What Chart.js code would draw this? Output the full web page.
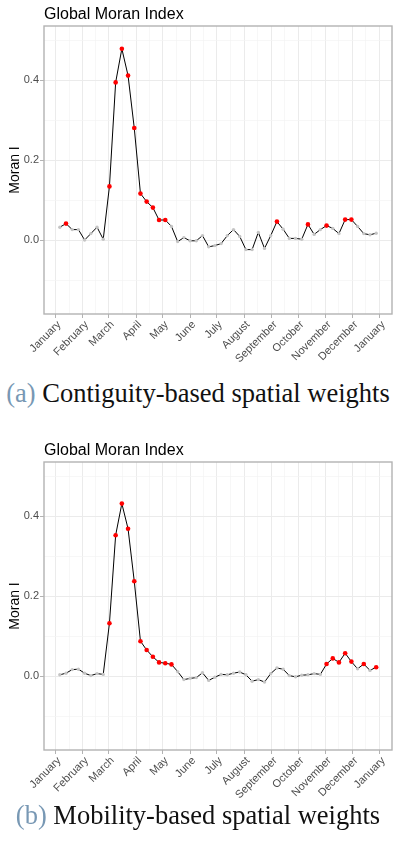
<!DOCTYPE html>
<html>
<head>
<meta charset="utf-8">
<script src="https://cdn.jsdelivr.net/npm/chart.js@4.4.0/dist/chart.umd.min.js"></script>
<style>
  body { margin: 0; background: #fff; width: 396px; height: 845px; position: relative; overflow: hidden; }
  .box { position: absolute; left: 0; width: 396px; height: 372px; }
  .cap { position: absolute; left: 0; width: 396px; text-align: center; white-space: nowrap;
         font-family: "Liberation Serif", serif; font-size: 26.5px; line-height: 27px; color: #111; }
  .cap span { color: #7898b4; }
</style>
</head>
<body>
<div class="box" style="top:0"><canvas id="chartA"></canvas></div>
<div class="cap" style="top:380px"><span>(a)</span> Contiguity-based spatial weights</div>
<div class="box" style="top:436px"><canvas id="chartB"></canvas></div>
<div class="cap" style="top:802px"><span>(b)</span> Mobility-based spatial weights</div>

<script>
// weekly observations (2020)
const weeks = [
  "2020-01-06","2020-01-13","2020-01-20","2020-01-27","2020-02-03","2020-02-10","2020-02-17","2020-02-24",
  "2020-03-02","2020-03-09","2020-03-16","2020-03-23","2020-03-30","2020-04-06","2020-04-13","2020-04-20",
  "2020-04-27","2020-05-04","2020-05-11","2020-05-18","2020-05-25","2020-06-01","2020-06-08","2020-06-15",
  "2020-06-22","2020-06-29","2020-07-06","2020-07-13","2020-07-20","2020-07-27","2020-08-03","2020-08-10",
  "2020-08-17","2020-08-24","2020-08-31","2020-09-07","2020-09-14","2020-09-21","2020-09-28","2020-10-05",
  "2020-10-12","2020-10-19","2020-10-26","2020-11-02","2020-11-09","2020-11-16","2020-11-23","2020-11-30",
  "2020-12-07","2020-12-14","2020-12-21","2020-12-28"
];

// Moran I, contiguity weights
const moranContig = [
  0.033, 0.042, 0.027, 0.027, 0.001, 0.017, 0.033, 0.003, 0.135, 0.395, 0.479, 0.412, 0.281,
  0.117, 0.097, 0.082, 0.051, 0.051, 0.035, -0.003, 0.007, -0.001, -0.001, 0.012, -0.016, -0.013,
  -0.008, 0.012, 0.027, 0.010, -0.023, -0.023, 0.020, -0.020, 0.012, 0.047, 0.028, 0.005, 0.005,
  0.003, 0.040, 0.015, 0.027, 0.037, 0.030, 0.017, 0.052, 0.052, 0.035, 0.017, 0.014, 0.018
];
const sigContig = [1, 8, 9, 10, 11, 12, 13, 14, 15, 16, 17, 35, 40, 43, 46, 47];

// Moran I, mobility weights
const moranMobility = [
  0.004, 0.008, 0.017, 0.018, 0.008, 0.002, 0.007, 0.005, 0.133, 0.353, 0.432, 0.369, 0.238,
  0.088, 0.066, 0.049, 0.035, 0.033, 0.030, 0.012, -0.008, -0.005, -0.003, 0.009, -0.010, -0.002,
  0.005, 0.004, 0.008, 0.011, 0.004, -0.012, -0.008, -0.014, 0.007, 0.021, 0.018, 0.002, -0.001,
  0.003, 0.004, 0.007, 0.005, 0.031, 0.045, 0.035, 0.058, 0.037, 0.019, 0.031, 0.015, 0.023
];
const sigMobility = [8, 9, 10, 11, 12, 13, 14, 15, 16, 17, 18, 43, 44, 45, 46, 47, 49, 51];

// x axis breaks
const monthDates = ["2020-01-01","2020-02-01","2020-03-01","2020-04-01","2020-05-01","2020-06-01",
  "2020-07-01","2020-08-01","2020-09-01","2020-10-01","2020-11-01","2020-12-01","2021-01-01"];
const monthLabels = ["January","February","March","April","May","June","July","August",
  "September","October","November","December","January"];

// y axis breaks
const yMajor = [0, 0.2, 0.4];
const yMinor = [-0.1, 0.1, 0.3, 0.5];

/* ---------- helpers ---------- */
const DAY0 = Date.UTC(2020, 0, 1);
function dayOf(s) {
  const [y, m, d] = s.split("-").map(Number);
  return (Date.UTC(y, m - 1, d) - DAY0) / 86400000;
}
const weekDays = weeks.map(dayOf);
const monthDays = monthDates.map(dayOf);
const monthMinor = monthDays.slice(1).map((d, i) => (d + monthDays[i]) / 2);
const spanX = weekDays[weekDays.length - 1] - weekDays[0];
const xMin = weekDays[0] - 0.05 * spanX;
const xMax = weekDays[weekDays.length - 1] + 0.05 * spanX;

const GRID = "#ebebeb", GRID_MINOR = "#f3f3f3", BORDER = "#b3b3b3", TICKTXT = "#4d4d4d";
const SANS = "'Liberation Sans', Arial, sans-serif";

// panel border, title and the 45deg month labels (anchored like ggplot hjust=1, vjust=1)
const panelPlugin = {
  id: "panel",
  afterDraw(chart) {
    const { ctx, chartArea: a } = chart;
    const xs = chart.scales.x;
    ctx.save();
    ctx.strokeStyle = BORDER;
    ctx.lineWidth = 1.4;
    ctx.strokeRect(a.left, a.top, a.right - a.left, a.bottom - a.top);

    ctx.fillStyle = "#000";
    ctx.font = "16px " + SANS;
    ctx.textBaseline = "alphabetic";
    ctx.textAlign = "left";
    ctx.fillText("Global Moran Index", a.left, 18.5);

    ctx.fillStyle = TICKTXT;
    ctx.font = "11px " + SANS;
    ctx.textAlign = "right";
    ctx.textBaseline = "top";
    monthDays.forEach((d, i) => {
      ctx.save();
      ctx.translate(xs.getPixelForValue(d), a.bottom + 5);
      ctx.rotate(-Math.PI / 4);
      ctx.fillText(monthLabels[i], 0, 0);
      ctx.restore();
    });
    ctx.restore();
  }
};

function makeChart(id, values, sig) {
  const sigSet = new Set(sig);
  const points = values.map((v, i) => ({ x: weekDays[i], y: v }));
  return new Chart(document.getElementById(id), {
    type: "line",
    data: {
      datasets: [{
        data: points,
        borderColor: "#000",
        borderWidth: 1,
        tension: 0,
        pointBorderWidth: 0,
        pointRadius: ctx => sigSet.has(ctx.dataIndex) ? 2.3 : 1.7,
        pointBackgroundColor: ctx => sigSet.has(ctx.dataIndex) ? "#ff0000" : "#c4c4c4"
      }]
    },
    options: {
      responsive: true,
      maintainAspectRatio: false,
      animation: false,
      layout: { padding: { top: 26, right: 2, left: 0, bottom: 0 } },
      plugins: { legend: { display: false }, tooltip: { enabled: false }, title: { display: false } },
      scales: {
        x: {
          type: "linear",
          min: xMin,
          max: xMax,
          afterBuildTicks: s => { s.ticks = monthDays.concat(monthMinor).sort((a, b) => a - b).map(v => ({ value: v })); },
          afterFit: s => { s.height = 58; },
          border: { display: false },
          grid: {
            color: c => monthDays.includes(c.tick.value) ? GRID : GRID_MINOR,
            lineWidth: c => monthDays.includes(c.tick.value) ? 1 : 0.7,
            tickColor: c => monthDays.includes(c.tick.value) ? BORDER : "rgba(0,0,0,0)",
            tickLength: 4
          },
          ticks: { display: false }
        },
        y: {
          min: -0.184,
          max: 0.536,
          afterBuildTicks: s => { s.ticks = yMinor.concat(yMajor).sort((a, b) => a - b).map(v => ({ value: v })); },
          afterFit: s => { s.width = 44; },
          border: { display: false },
          title: { display: true, text: "Moran I", color: "#000", font: { family: SANS, size: 14 }, padding: { top: 7, bottom: 0 } },
          grid: {
            color: c => yMajor.includes(c.tick.value) ? GRID : GRID_MINOR,
            lineWidth: c => yMajor.includes(c.tick.value) ? 1 : 0.7,
            tickColor: c => yMajor.includes(c.tick.value) ? BORDER : "rgba(0,0,0,0)",
            tickLength: 4
          },
          ticks: {
            padding: 1,
            color: TICKTXT,
            font: { family: SANS, size: 11 },
            callback: v => yMajor.includes(v) ? v.toFixed(1) : ""
          }
        }
      }
    },
    plugins: [panelPlugin]
  });
}

makeChart("chartA", moranContig, sigContig);
makeChart("chartB", moranMobility, sigMobility);
</script>
</body>
</html>
